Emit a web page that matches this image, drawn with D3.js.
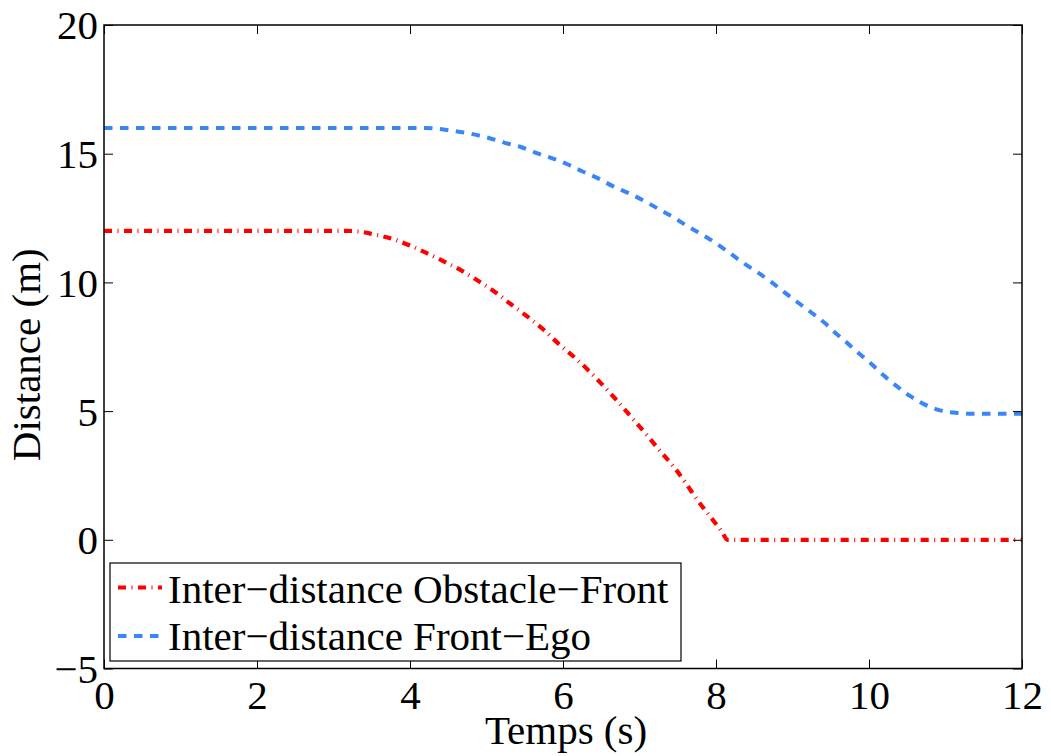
<!DOCTYPE html>
<html>
<head>
<meta charset="utf-8">
<script src="https://cdn.jsdelivr.net/npm/d3@7"></script>
<style>
  html, body { margin: 0; padding: 0; background: #fff; }
  svg { display: block; }
  text { font-family: "Liberation Serif", "Times New Roman", "DejaVu Serif", serif; fill: #000; }
</style>
</head>
<body>
<svg id="chart" width="1051" height="756"></svg>
<script>
// ---- Data ----
const timeObstacleFront = [0, 3.2, 3.35, 3.52, 3.78, 4.02, 4.26, 4.50, 4.68, 4.89, 5.11, 5.32, 5.54, 5.74, 5.93, 6.13, 6.33, 6.51, 6.69, 6.86, 7.11, 7.28, 7.45, 7.61, 7.76, 7.92, 8.08, 8.15, 12];
const distObstacleFront = [12, 12, 11.97, 11.87, 11.68, 11.41, 11.08, 10.73, 10.45, 10.06, 9.63, 9.15, 8.66, 8.18, 7.65, 7.14, 6.59, 6.04, 5.46, 4.88, 4.02, 3.41, 2.83, 2.18, 1.53, 0.92, 0.30, 0, 0];

const timeFrontEgo = [0, 4.2, 4.56, 4.82, 5.02, 5.24, 5.44, 5.63, 5.86, 6.05, 6.25, 6.46, 6.65, 6.85, 7.06, 7.25, 7.45, 7.63, 7.83, 8.01, 8.18, 8.35, 8.55, 8.73, 8.90, 9.07, 9.25, 9.43, 9.53, 9.71, 9.87, 10.04, 10.19, 10.37, 10.54, 10.73, 10.93, 11.15, 11.3, 12];
const distFrontEgo = [16, 16, 15.89, 15.76, 15.62, 15.42, 15.27, 15.05, 14.82, 14.60, 14.32, 14.04, 13.74, 13.48, 13.17, 12.85, 12.52, 12.18, 11.84, 11.50, 11.14, 10.77, 10.38, 10.0, 9.60, 9.22, 8.82, 8.40, 8.12, 7.66, 7.24, 6.81, 6.39, 5.95, 5.58, 5.25, 5.03, 4.93, 4.9, 4.9];

const xTicks = [0, 2, 4, 6, 8, 10, 12];
const yTicks = [-5, 0, 5, 10, 15, 20];
const seriesNames = ["Inter\u2212distance Obstacle\u2212Front", "Inter\u2212distance Front\u2212Ego"];
const xLabel = "Temps (s)";
const yLabel = "Distance (m)";

// ---- Layout ----
const svg = d3.select("#chart");
const L = 104, R = 1022, T = 25, B = 668.5;
const FS = 41;
const x = d3.scaleLinear().domain([0, 12]).range([L, R]);
const y = d3.scaleLinear().domain([-5, 20]).range([B, T]);

svg.append("rect").attr("width", 1051).attr("height", 756).attr("fill", "#fff");

svg.append("clipPath").attr("id", "clip").append("rect")
  .attr("x", L).attr("y", T).attr("width", R - L).attr("height", B - T);

// ---- Lines ----
const line = d3.line().x(d => x(d[0])).y(d => y(d[1])).curve(d3.curveMonotoneX);
const redData = timeObstacleFront.map((t, i) => [t, distObstacleFront[i]]);
const blueData = timeFrontEgo.map((t, i) => [t, distFrontEgo[i]]);

const g = svg.append("g").attr("clip-path", "url(#clip)");
g.append("path").datum(blueData).attr("d", line)
  .attr("fill", "none").attr("stroke", "#3a86f7").attr("stroke-width", 4)
  .attr("stroke-dasharray", "8.5,7.5");
g.append("path").datum(redData).attr("d", line)
  .attr("fill", "none").attr("stroke", "#ff0000").attr("stroke-width", 4.2)
  .attr("stroke-dasharray", "8,5.5,1,5.5");

// ---- Axes ----
const tickLen = 9;
const axB = svg.append("g").attr("transform", `translate(0,${B})`)
  .call(d3.axisBottom(x).tickValues(xTicks).tickSize(-tickLen).tickPadding(0).tickFormat(d3.format("d")));
const axT = svg.append("g").attr("transform", `translate(0,${T})`)
  .call(d3.axisTop(x).tickValues(xTicks).tickSize(-tickLen).tickFormat(""));
const axL = svg.append("g").attr("transform", `translate(${L},0)`)
  .call(d3.axisLeft(y).tickValues(yTicks).tickSize(-tickLen).tickPadding(0).tickFormat(d => d < 0 ? "\u2212" + Math.abs(d) : d));
const axR = svg.append("g").attr("transform", `translate(${R},0)`)
  .call(d3.axisRight(y).tickValues(yTicks).tickSize(-tickLen).tickFormat(""));

[axB, axT, axL, axR].forEach(a => {
  a.attr("font-family", null);
  a.select(".domain").remove();
  a.selectAll(".tick line").attr("stroke", "#000").attr("stroke-width", 1);
});
axB.selectAll(".tick text").attr("font-size", FS)
  .attr("y", 40.5).attr("dy", 0).attr("fill", "#000");
axL.selectAll(".tick text").attr("font-size", FS)
  .attr("x", -6).attr("dy", "0.34em").attr("fill", "#000");

// box
svg.append("rect").attr("x", L).attr("y", T).attr("width", R - L).attr("height", B - T)
  .attr("fill", "none").attr("stroke", "#000").attr("stroke-width", 1.5);

// ---- Axis labels ----
svg.append("text").attr("x", (L + R) / 2 + 3).attr("y", 744)
  .attr("text-anchor", "middle").attr("font-size", FS).text(xLabel);
svg.append("text").attr("transform", `translate(40,${(T + B) / 2 + 8}) rotate(-90)`)
  .attr("text-anchor", "middle").attr("font-size", FS).text(yLabel);

// ---- Legend ----
const leg = svg.append("g");
leg.append("rect").attr("x", 110).attr("y", 563).attr("width", 571).attr("height", 98)
  .attr("fill", "#fff").attr("stroke", "#000").attr("stroke-width", 1.2);
const legendStyles = [
  { color: "#ff0000", dash: "8,5.5,1,5.5" },
  { color: "#3a86f7", dash: "8.5,7.5" }
];
const rowsY = [587.5, 636];
const rowsBase = [603, 650];
seriesNames.forEach((name, i) => {
  leg.append("line").attr("x1", 118).attr("x2", 162).attr("y1", rowsY[i]).attr("y2", rowsY[i])
    .attr("stroke", legendStyles[i].color).attr("stroke-width", 4)
    .attr("stroke-dasharray", legendStyles[i].dash);
  leg.append("text").attr("x", 168).attr("y", rowsBase[i])
    .attr("font-size", FS).text(name);
});
</script>
</body>
</html>
